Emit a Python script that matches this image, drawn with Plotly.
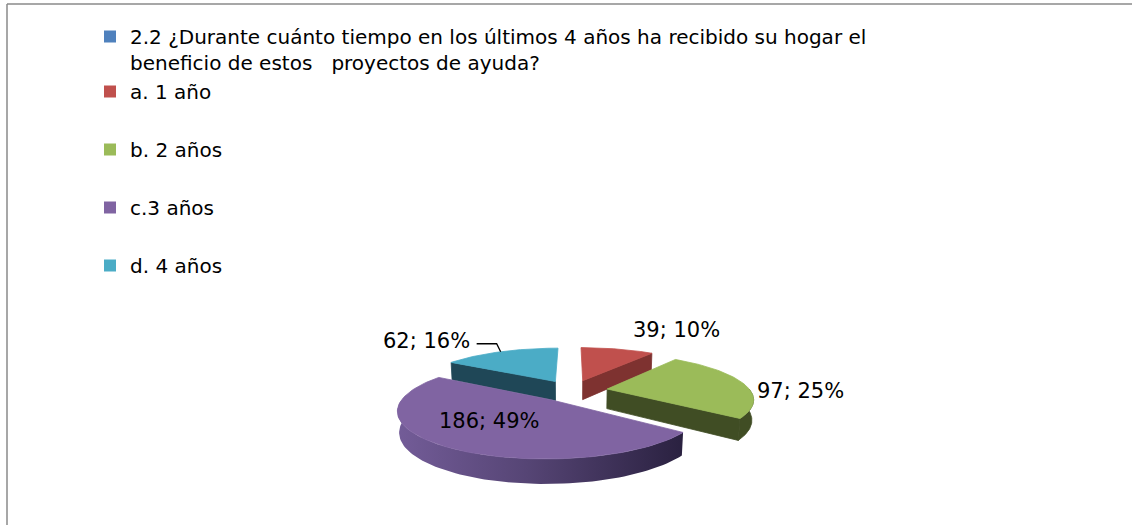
import numpy as np
import plotly.graph_objects as go

# ---------------- data ----------------
series_name = ("2.2 ¿Durante cuánto tiempo en los últimos 4 años ha recibido su hogar el<br>"
               "beneficio de estos\u00a0\u00a0 proyectos de ayuda?")
categories = ["a. 1 año", "b. 2 años", "c.3 años", "d. 4 años"]
values = [39, 97, 186, 62]
percents = [10, 25, 49, 16]

# ---------------- styles ----------------
series_color = "#4F81BD"
top_colors = ["#C0504D", "#9BBB59", "#8064A2", "#4BACC6"]
wall_colors = ["#7E3230", "#404D24", "#4E3F6C", "#1F4757"]
purple_wall_scale = [[0, "#735C98"], [0.45, "#564575"], [1, "#2A2140"]]
FONT = "DejaVu Sans"

# pie geometry (pixel space)
S, CX, CY = 143.0, 572.0, 390.5
SIN_A = 0.302
COS_A = float(np.sqrt(1 - SIN_A ** 2))
D, H, E = 4.8, 0.146, 0.25


def proj(X, Z, Y=0.0):
    X = np.asarray(X, float)
    Z = np.asarray(Z, float)
    yp = Y * COS_A + Z * SIN_A
    zp = Z * COS_A - Y * SIN_A
    s = D / (D + zp)
    return CX + S * X * s, CY - S * yp * s


fig = go.Figure()

# legend entries
fig.add_trace(go.Scatter(x=[None], y=[None], mode="markers", name=series_name,
                         legendgroup="g0",
                         marker=dict(symbol="square", size=12, color=series_color)))
for i, c in enumerate(categories):
    fig.add_trace(go.Scatter(x=[None], y=[None], mode="markers", name=c,
                             legendgroup="g0" if i == 0 else f"g{i}",
                             marker=dict(symbol="square", size=12, color=top_colors[i])))


def poly(xs, ys, color, grad=None):
    kw = dict(x=list(xs) + [xs[0]], y=list(ys) + [ys[0]], mode="lines", fill="toself",
              line=dict(width=0.8, color=color), fillcolor=color,
              showlegend=False, hoverinfo="skip")
    if grad is not None:
        kw["fillgradient"] = dict(type="horizontal", colorscale=grad)
        kw["line"] = dict(width=0)
    fig.add_trace(go.Scatter(**kw))


total = float(sum(values))
bounds = np.concatenate([[0.0], np.cumsum(values) / total * 360.0])

label_info = {}
for i in [0, 3, 1, 2]:
    t0, t1 = bounds[i], bounds[i + 1]
    m = np.radians((t0 + t1) / 2)
    ox, oz = E * np.sin(m), E * np.cos(m)

    # outer (front-facing) wall
    lo, hi = max(t0, 90.0), min(t1, 270.0)
    if hi > lo:
        th = np.radians(np.linspace(lo, hi, 80))
        wx, wz = ox + np.sin(th), oz + np.cos(th)
        tx, ty = proj(wx, wz, 0.0)
        bx, by = proj(wx, wz, -H)
        xs = np.concatenate([tx, bx[::-1]])
        ys = np.concatenate([ty, by[::-1]])
        poly(xs, ys, wall_colors[i], purple_wall_scale if i == 2 else None)

    # radial walls
    for t, visible in ((t1, np.sin(np.radians(t1)) > 1e-6), (t0, np.sin(np.radians(t0)) < -1e-6)):
        if visible:
            ex, ez = ox + np.sin(np.radians(t)), oz + np.cos(np.radians(t))
            pxs, pys = [], []
            for (X, Z, Y) in ((ox, oz, 0.0), (ex, ez, 0.0), (ex, ez, -H), (ox, oz, -H)):
                a, b = proj(X, Z, Y)
                pxs.append(float(a)); pys.append(float(b))
            poly(pxs, pys, wall_colors[i])

    # top face
    th = np.radians(np.linspace(t0, t1, 90))
    ax_, ay_ = proj(ox + np.sin(th), oz + np.cos(th), 0.0)
    cx0, cy0 = proj(ox, oz, 0.0)
    poly([float(cx0)] + list(ax_), [float(cy0)] + list(ay_), top_colors[i])

    # label anchor points
    ex, ey = proj(ox + np.sin(m), oz + np.cos(m), 0.0)
    ix, iy = proj(ox + 0.55 * np.sin(m), oz + 0.55 * np.cos(m), 0.0)
    label_info[i] = (float(ex), float(ey), float(ix), float(iy))

# data labels
label_style = {
    0: dict(kind="edge", xanchor="left", xshift=14, yshift=19),
    1: dict(kind="edge", xanchor="left", xshift=12, yshift=-8),
    2: dict(kind="inner", xanchor="center", xshift=-8, yshift=2),
    3: dict(kind="edge", xanchor="right", xshift=-29, yshift=11),
}
for i in range(len(values)):
    ex, ey, ix, iy = label_info[i]
    st = label_style[i]
    x, y = (ex, ey) if st["kind"] == "edge" else (ix, iy)
    fig.add_annotation(x=x, y=y, text=f"{values[i]}; {percents[i]}%", showarrow=False,
                       xanchor=st["xanchor"], yanchor="middle",
                       xshift=st["xshift"], yshift=st["yshift"],
                       font=dict(family=FONT, size=21, color="#000000"))

# leader line for the small left slice
ex, ey, _, _ = label_info[3]
fig.add_trace(go.Scatter(x=[ex, ex - 4, ex - 24], y=[ey, ey - 8, ey - 8], mode="lines",
                         line=dict(color="#000000", width=1.3),
                         showlegend=False, hoverinfo="skip"))

W, Hpx = 1132, 525
fig.update_layout(
    width=W, height=Hpx,
    margin=dict(l=0, r=0, t=0, b=0),
    paper_bgcolor="white", plot_bgcolor="white",
    xaxis=dict(range=[0, W], visible=False, fixedrange=True),
    yaxis=dict(range=[Hpx, 0], visible=False, fixedrange=True),
    showlegend=True,
    legend=dict(x=90 / W, y=1 - 17 / Hpx, xanchor="left", yanchor="top",
                font=dict(family=FONT, size=20, color="#000000"),
                valign="top", traceorder="grouped", tracegroupgap=29,
                bgcolor="rgba(0,0,0,0)", itemclick=False, itemdoubleclick=False),
    shapes=[
        dict(type="line", xref="x", yref="y", x0=7, y0=4, x1=W, y1=4,
             line=dict(color="#8A8A8A", width=1.5)),
        dict(type="line", xref="x", yref="y", x0=7, y0=4, x1=7, y1=Hpx,
             line=dict(color="#8A8A8A", width=1.5)),
    ],
)

fig.write_html("out.html", config={"displayModeBar": False},
               post_script="document.body.style.margin='0';")
